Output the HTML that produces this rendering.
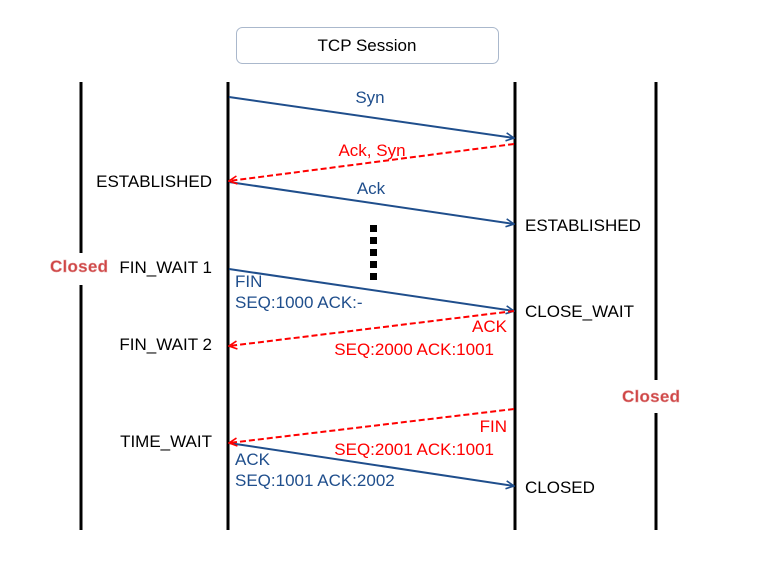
<!DOCTYPE html>
<html><head><meta charset="utf-8"><style>
html,body{margin:0;padding:0;background:#fff;}
svg{display:block;font-family:"Liberation Sans",sans-serif;}
</style></head><body>
<svg width="760" height="570" viewBox="0 0 760 570" xmlns="http://www.w3.org/2000/svg">
<defs>
<marker id="ab" markerWidth="10" markerHeight="10" refX="9" refY="5" orient="auto" markerUnits="userSpaceOnUse"><path d="M1,1 L9,5 L1,9" fill="none" stroke="#1f4e8c" stroke-width="1.6"/></marker>
<marker id="ar" markerWidth="10" markerHeight="10" refX="9" refY="5" orient="auto" markerUnits="userSpaceOnUse"><path d="M1,1 L9,5 L1,9" fill="none" stroke="#f00" stroke-width="1.6"/></marker>
</defs>
<rect x="236.5" y="27.5" width="262" height="36" rx="6" fill="#fff" stroke="#aab8cc"/>
<text x="367" y="51" font-size="17" text-anchor="middle" fill="#000">TCP Session</text>
<g stroke="#000" stroke-width="3">
<line x1="81" y1="82" x2="81" y2="253"/><line x1="81" y1="285" x2="81" y2="530"/>
<line x1="228" y1="82" x2="228" y2="530"/>
<line x1="515" y1="82" x2="515" y2="530"/>
<line x1="656" y1="82" x2="656" y2="380"/><line x1="656" y1="413" x2="656" y2="530"/>
</g>
<g stroke="#1f4e8c" stroke-width="2" fill="none" marker-end="url(#ab)">
<line x1="229" y1="97" x2="514" y2="138"/>
<line x1="229" y1="182" x2="514" y2="224"/>
<line x1="229" y1="269" x2="514" y2="311"/>
<line x1="229" y1="443" x2="514" y2="486"/>
</g>
<g stroke="#f00" stroke-width="2" stroke-dasharray="6,3" fill="none" marker-end="url(#ar)">
<line x1="514" y1="144" x2="229" y2="181"/>
<line x1="514" y1="311" x2="229" y2="346"/>
<line x1="514" y1="409" x2="229" y2="443"/>
</g>
<g fill="#000"><rect x="370" y="225" width="7" height="7"/><rect x="370" y="237" width="7" height="7"/><rect x="370" y="249" width="7" height="7"/><rect x="370" y="261" width="7" height="7"/><rect x="370" y="273" width="7" height="7"/></g>
<g font-size="17" fill="#1f4e8c">
<text x="370" y="103" text-anchor="middle">Syn</text>
<text x="371" y="194" text-anchor="middle">Ack</text>
<text x="235" y="287">FIN</text>
<text x="235" y="308">SEQ:1000 ACK:-</text>
<text x="235" y="465">ACK</text>
<text x="235" y="486">SEQ:1001 ACK:2002</text>
</g>
<g font-size="17" fill="#f00">
<text x="372" y="156" text-anchor="middle">Ack, Syn</text>
<text x="507" y="332" text-anchor="end">ACK</text>
<text x="494" y="355" text-anchor="end">SEQ:2000 ACK:1001</text>
<text x="507" y="432" text-anchor="end">FIN</text>
<text x="494" y="455" text-anchor="end">SEQ:2001 ACK:1001</text>
</g>
<g font-size="17" fill="#000">
<text x="212" y="187" text-anchor="end">ESTABLISHED</text>
<text x="212" y="273" text-anchor="end">FIN_WAIT 1</text>
<text x="212" y="350" text-anchor="end">FIN_WAIT 2</text>
<text x="212" y="447" text-anchor="end">TIME_WAIT</text>
<text x="525" y="231">ESTABLISHED</text>
<text x="525" y="317">CLOSE_WAIT</text>
<text x="525" y="493">CLOSED</text>
</g>
<g font-size="17" font-weight="bold" fill="#d04545" stroke="#e29a9a" stroke-width="0.5">
<text x="50" y="272" textLength="58">Closed</text>
<text x="622" y="402" textLength="58">Closed</text>
</g>
</svg>
</body></html>
